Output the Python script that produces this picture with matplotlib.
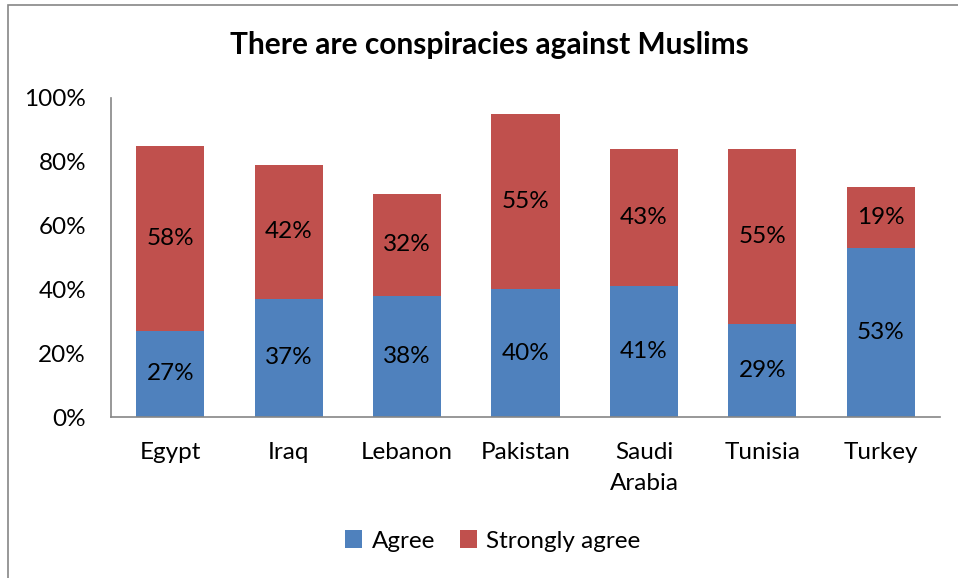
import matplotlib
matplotlib.use("Agg")
import matplotlib.pyplot as plt
from matplotlib.patches import Rectangle

categories = ["Egypt", "Iraq", "Lebanon", "Pakistan", "Saudi\nArabia", "Tunisia", "Turkey"]
agree = [27, 37, 38, 40, 41, 29, 53]
strongly_agree = [58, 42, 32, 55, 43, 55, 19]
yticks = [0, 20, 40, 60, 80, 100]

BLUE = "#4F81BD"
RED = "#C0504D"
FONT = "Lato"
FS = 17.5

fig = plt.figure(figsize=(9.58, 5.78), dpi=100)
fig.patches.append(Rectangle((8/958, -0.1), 1.1, 1 - 5/578 + 0.1, transform=fig.transFigure,
                             fill=False, edgecolor="#868686", linewidth=1.2))
ax = fig.add_axes([111/958, 1 - 417/578, 829/958, 319/578])

x = list(range(len(categories)))
w = 0.575
b1 = ax.bar(x, agree, width=w, color=BLUE, label="Agree")
b2 = ax.bar(x, strongly_agree, width=w, bottom=agree, color=RED, label="Strongly agree")

for i in x:
    ax.text(i, agree[i] / 2, f"{agree[i]}%", ha="center", va="center", fontsize=FS, family=FONT)
    ax.text(i, agree[i] + strongly_agree[i] / 2, f"{strongly_agree[i]}%", ha="center", va="center",
            fontsize=FS, family=FONT)

ax.set_xlim(-0.5, len(categories) - 0.5)
ax.set_ylim(0, 100)
ax.set_yticks(yticks)
ax.set_yticklabels([f"{v}%" for v in yticks], fontsize=FS, family=FONT)
ax.set_xticks(x)
ax.set_xticklabels(categories, fontsize=FS, family=FONT, va="top", linespacing=1.6)
ax.tick_params(axis="both", length=0)
ax.tick_params(axis="y", pad=18)
ax.tick_params(axis="x", pad=18)
for s in ["top", "right"]:
    ax.spines[s].set_visible(False)
for s in ["left", "bottom"]:
    ax.spines[s].set_color("#868686")
    ax.spines[s].set_linewidth(1.2)

fig.text(489/958, 1 - 45/578, "There are conspiracies against Muslims", ha="center", va="center",
         fontsize=21.5, fontweight="bold", family=FONT)

fig.legend(handles=[b1, b2], labels=["Agree", "Strongly agree"], loc="center",
           bbox_to_anchor=(493/958, 1 - 541/578), ncol=2, frameon=False,
           prop={"family": FONT, "size": FS}, handlelength=0.7, handleheight=0.7,
           handletextpad=0.4, columnspacing=1.0)

fig.savefig("out.png", dpi=100)
